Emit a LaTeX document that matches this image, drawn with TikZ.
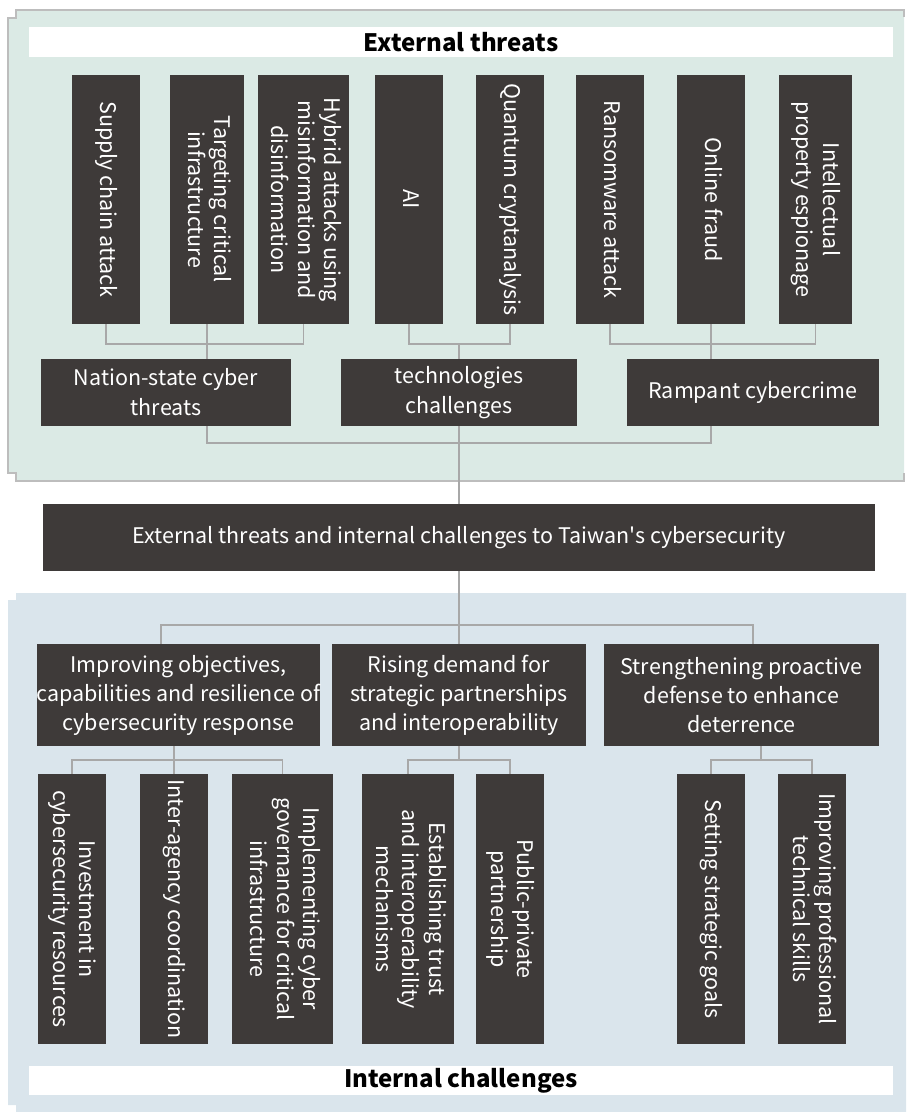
\documentclass[tikz,border=0pt]{standalone}
\usepackage{fontspec}
\setmainfont{Noto Sans CJK SC}[Ligatures=TeXOff]
\definecolor{boxc}{HTML}{3E3A39}
\definecolor{linec}{HTML}{A8A8A8}
\definecolor{greenbg}{HTML}{DBEAE5}
\definecolor{bluebg}{HTML}{DAE5EC}
\definecolor{panelline}{HTML}{BDBDBD}
\newcommand{\vtext}[1]{\rotatebox{-90}{\begin{tabular}{@{}c@{}}#1\end{tabular}}}
\begin{document}
\begin{tikzpicture}[x=1pt,y=-1pt,
  dbox/.style={fill=boxc, inner sep=0pt, text=white, align=center, font=\fontsize{21.5}{30}\selectfont},
  vbox/.style={fill=boxc, inner sep=0pt, text=white, font=\fontsize{21.5}{26.5}\selectfont},
  conn/.style={draw=linec, line width=1.5pt},
  titlebar/.style={fill=white, inner sep=0pt, text=black, font=\bfseries\fontsize{24}{30}\selectfont}]
\useasboundingbox (0,0) rectangle (906,1112);
% panels
\fill[greenbg] (16,10) -- (904,10) -- (904,481) -- (16,481) -- (16,473) -- (8,473) -- (8,18) -- (16,18) -- cycle;
\draw[panelline, line width=1.2pt] (904,17) -- (904,10) -- (16,10) -- (16,18) -- (8,18) -- (8,473) -- (16,473) -- (16,481) -- (904,481) -- (904,473);
\fill[bluebg] (16,593) -- (906,593) -- (906,1112) -- (16,1112) -- (16,1105) -- (8,1105) -- (8,600) -- (16,600) -- cycle;
% title bars
\node[titlebar, minimum width=864pt, minimum height=30pt] (ttop) at (461,42) {External threats};
\node[titlebar, minimum width=864pt, minimum height=29pt] (tbot) at (461,1080.5) {Internal challenges};
% top vertical boxes
\node[vbox, minimum width=68pt, minimum height=249pt] (sc) at (106,199.5) {\vtext{Supply chain attack}};
\node[vbox, minimum width=74pt, minimum height=249pt] (tci) at (207,199.5) {\vtext{Targeting critical\\infrastructure}};
\node[vbox, minimum width=91pt, minimum height=249pt] (hyb) at (303.5,199.5) {\vtext{Hybrid attacks using\\misinformation and\\disinformation}};
\node[vbox, minimum width=68pt, minimum height=249pt] (ai) at (409,199.5) {\vtext{AI}};
\node[vbox, minimum width=68pt, minimum height=249pt] (qc) at (510,199.5) {\vtext{Quantum cryptanalysis}};
\node[vbox, minimum width=68pt, minimum height=249pt] (ra) at (610,199.5) {\vtext{Ransomware attack}};
\node[vbox, minimum width=68pt, minimum height=249pt] (of) at (711,199.5) {\vtext{Online fraud}};
\node[vbox, minimum width=73pt, minimum height=249pt] (ip) at (815.5,199.5) {\vtext{Intellectual\\property espionage}};
% middle boxes
\node[dbox, minimum width=250pt, minimum height=67pt] (nation) at (166,392.5) {Nation-state cyber\\threats};
\node[dbox, minimum width=236pt, minimum height=67pt] (tech) at (459,392.5) {technologies\\challenges};
\node[dbox, minimum width=252pt, minimum height=67pt] (ramp) at (753,392.5) {Rampant cybercrime};
% central
\node[dbox, minimum width=832pt, minimum height=67pt] (central) at (459,537.5) {External threats and internal challenges to Taiwan's cybersecurity};
% sub headers
\node[dbox, minimum width=275pt, minimum height=102pt, font=\fontsize{21.5}{29}\selectfont] (imp) at (178.5,695) {Improving objectives,\\capabilities and resilience of\\cybersecurity response};
\node[dbox, minimum width=254pt, minimum height=102pt, font=\fontsize{21.5}{29}\selectfont] (rise) at (459,695) {Rising demand for\\strategic partnerships\\and interoperability};
\node[dbox, minimum width=275pt, minimum height=102pt, font=\fontsize{21.5}{29}\selectfont] (str) at (741.5,695) {Strengthening proactive\\defense to enhance\\deterrence};
% bottom vertical boxes
\node[vbox, minimum width=68pt, minimum height=270pt] (inv) at (72,909) {\vtext{Investment in\\cybersecurity resources}};
\node[vbox, minimum width=68pt, minimum height=270pt] (inter) at (174,909) {\vtext{Inter-agency coordination}};
\node[vbox, minimum width=101pt, minimum height=270pt] (impl) at (282.5,909) {\vtext{Implementing cyber\\governance for critical\\infrastructure}};
\node[vbox, minimum width=92pt, minimum height=270pt] (est) at (408,909) {\vtext{Establishing trust\\and interoperability\\mechanisms}};
\node[vbox, minimum width=68pt, minimum height=270pt] (pub) at (510,909) {\vtext{Public-private\\partnership}};
\node[vbox, minimum width=68pt, minimum height=270pt] (set) at (711,909) {\vtext{Setting strategic goals}};
\node[vbox, minimum width=68pt, minimum height=270pt] (impr) at (812,909) {\vtext{Improving professional\\technical skills}};
% bus coordinates
\coordinate (b1) at (0,344);
\coordinate (b2) at (0,443);
\coordinate (x1) at (161,625);
\coordinate (x3) at (753,625);
\coordinate (b4) at (0,760);
\coordinate (g3) at (761,760);
% top connectors
\draw[conn] (sc.south) -- (sc.south |- b1) -| (hyb.south);
\draw[conn] (tci.south) -- (nation.north -| tci.south);
\draw[conn] (ai.south) -- (ai.south |- b1) -| (qc.south);
\draw[conn] (tech.north |- b1) -- (tech.north);
\draw[conn] (ra.south) -- (ra.south |- b1) -| (ip.south);
\draw[conn] (of.south) -- (ramp.north -| of.south);
\draw[conn] (nation.south -| tci.south) -- (tci.south |- b2) -| (ramp.south -| of.south);
\draw[conn] (tech.south) -- (central.north);
% lower connectors
\draw[conn] (central.south) -- (rise.north);
\draw[conn] (x1 |- imp.north) -- (x1) -- (x3) -- (x3 |- str.north);
\draw[conn] (imp.south -| inter.north) -- (inter.north);
\draw[conn] (inv.north) -- (inv.north |- b4) -| (impl.north);
\draw[conn] (rise.south) -- (rise.south |- b4);
\draw[conn] (est.north) -- (est.north |- b4) -| (pub.north);
\draw[conn] (g3 |- str.south) -- (g3);
\draw[conn] (set.north) -- (set.north |- b4) -| (impr.north);
\end{tikzpicture}
\end{document}
